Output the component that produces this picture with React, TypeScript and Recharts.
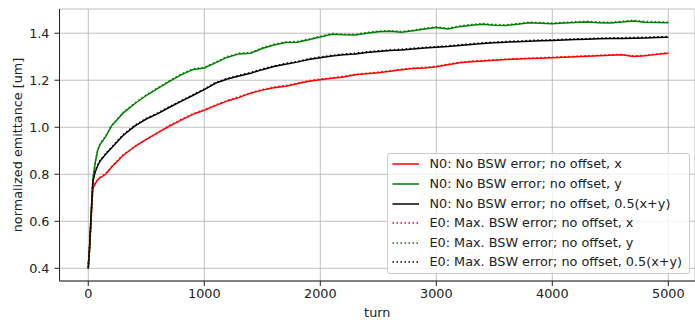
import React from "react";
import { LineChart, Line, XAxis, YAxis, CartesianGrid } from "recharts";

const turns = [0, 10, 20, 30, 40, 60, 80, 100, 150, 200, 300, 400, 500, 600, 700, 800, 900, 1000, 1100, 1200, 1300, 1400, 1500, 1600, 1700, 1800, 1900, 2000, 2100, 2200, 2300, 2400, 2500, 2600, 2700, 2800, 2900, 3000, 3100, 3200, 3300, 3400, 3500, 3600, 3700, 3800, 3900, 4000, 4100, 4200, 4300, 4400, 4500, 4600, 4700, 4800, 4900, 5000];

const n0x = [0.42, 0.47, 0.56, 0.66, 0.74, 0.76, 0.775, 0.785, 0.80, 0.83, 0.88, 0.918, 0.948, 0.977, 1.005, 1.030, 1.055, 1.072, 1.093, 1.112, 1.127, 1.145, 1.158, 1.168, 1.174, 1.185, 1.196, 1.202, 1.208, 1.214, 1.223, 1.228, 1.232, 1.238, 1.245, 1.250, 1.252, 1.257, 1.266, 1.274, 1.279, 1.282, 1.285, 1.288, 1.290, 1.292, 1.294, 1.296, 1.298, 1.300, 1.302, 1.304, 1.306, 1.308, 1.301, 1.304, 1.310, 1.315];
const n0y = [0.40, 0.48, 0.58, 0.68, 0.78, 0.85, 0.90, 0.925, 0.96, 1.005, 1.06, 1.10, 1.135, 1.165, 1.195, 1.223, 1.245, 1.252, 1.275, 1.298, 1.312, 1.315, 1.335, 1.350, 1.360, 1.362, 1.372, 1.384, 1.396, 1.393, 1.392, 1.400, 1.406, 1.408, 1.404, 1.410, 1.418, 1.424, 1.418, 1.428, 1.434, 1.438, 1.434, 1.433, 1.438, 1.444, 1.442, 1.440, 1.443, 1.446, 1.448, 1.445, 1.443, 1.448, 1.452, 1.447, 1.446, 1.444];
const n0xy = [0.40, 0.48, 0.58, 0.68, 0.77, 0.81, 0.835, 0.855, 0.885, 0.912, 0.965, 1.005, 1.035, 1.058, 1.085, 1.110, 1.135, 1.160, 1.188, 1.205, 1.218, 1.230, 1.245, 1.258, 1.268, 1.277, 1.288, 1.296, 1.303, 1.308, 1.312, 1.318, 1.322, 1.326, 1.329, 1.333, 1.337, 1.340, 1.343, 1.348, 1.352, 1.356, 1.359, 1.362, 1.364, 1.366, 1.368, 1.369, 1.371, 1.373, 1.374, 1.376, 1.377, 1.378, 1.379, 1.380, 1.382, 1.383];
const e0x = [0.42, 0.47, 0.56, 0.66, 0.74, 0.762, 0.777, 0.787, 0.803, 0.832, 0.883, 0.918, 0.948, 0.977, 1.008, 1.033, 1.057, 1.075, 1.095, 1.114, 1.130, 1.147, 1.160, 1.171, 1.177, 1.187, 1.198, 1.205, 1.210, 1.217, 1.225, 1.230, 1.235, 1.240, 1.247, 1.252, 1.255, 1.259, 1.268, 1.276, 1.281, 1.284, 1.287, 1.290, 1.292, 1.294, 1.296, 1.298, 1.300, 1.302, 1.304, 1.306, 1.308, 1.310, 1.303, 1.306, 1.312, 1.317];
const e0y = [0.40, 0.48, 0.58, 0.68, 0.78, 0.852, 0.902, 0.928, 0.963, 1.008, 1.063, 1.103, 1.138, 1.168, 1.198, 1.226, 1.248, 1.255, 1.278, 1.301, 1.315, 1.318, 1.338, 1.353, 1.363, 1.365, 1.375, 1.387, 1.399, 1.396, 1.395, 1.403, 1.409, 1.411, 1.407, 1.413, 1.421, 1.427, 1.421, 1.431, 1.437, 1.441, 1.437, 1.436, 1.441, 1.447, 1.445, 1.443, 1.446, 1.449, 1.451, 1.448, 1.446, 1.451, 1.455, 1.450, 1.449, 1.447];
const e0xy = [0.40, 0.48, 0.58, 0.68, 0.77, 0.812, 0.838, 0.858, 0.888, 0.915, 0.968, 1.008, 1.038, 1.061, 1.088, 1.113, 1.138, 1.163, 1.191, 1.208, 1.221, 1.233, 1.248, 1.261, 1.271, 1.280, 1.291, 1.299, 1.306, 1.311, 1.315, 1.321, 1.325, 1.329, 1.332, 1.336, 1.340, 1.343, 1.346, 1.351, 1.355, 1.359, 1.362, 1.365, 1.367, 1.369, 1.371, 1.372, 1.374, 1.376, 1.377, 1.379, 1.380, 1.381, 1.382, 1.383, 1.385, 1.386];

const xTicks = [0, 1000, 2000, 3000, 4000, 5000];
const yTicks = [0.4, 0.6, 0.8, 1.0, 1.2, 1.4];

const seriesNames = [
  "N0: No BSW error; no offset, x",
  "N0: No BSW error; no offset, y",
  "N0: No BSW error; no offset, 0.5(x+y)",
  "E0: Max. BSW error; no offset, x",
  "E0: Max. BSW error; no offset, y",
  "E0: Max. BSW error; no offset, 0.5(x+y)",
];
const seriesKeys = ["n0x", "n0y", "n0xy", "e0x", "e0y", "e0xy"];
const seriesColors = ["#ff0000", "#008000", "#000000", "#ff0000", "#008000", "#000000"];
const seriesDotted = [false, false, false, true, true, true];

const data = turns.map((t, i) => ({
  turn: t,
  n0x: n0x[i],
  n0y: n0y[i],
  n0xy: n0xy[i],
  e0x: e0x[i],
  e0y: e0y[i],
  e0xy: e0xy[i],
}));

const FONT = "'DejaVu Sans', sans-serif";
const TXT = "#222";
const FS = 12.8;

function LegendBox() {
  return (
    <div
      style={{
        position: "absolute",
        left: 387,
        top: 153,
        width: 303,
        height: 121,
        background: "rgba(255,255,255,0.8)",
        border: "1px solid #cccccc",
        borderRadius: 3,
        boxSizing: "border-box",
        fontFamily: FONT,
        fontSize: FS,
        color: TXT,
      }}
    >
      {seriesNames.map((name, i) => (
        <div
          key={name}
          style={{
            position: "absolute",
            left: 0,
            top: 10.3 + i * 19.6 - 8,
            height: 16,
            display: "flex",
            alignItems: "center",
            whiteSpace: "nowrap",
          }}
        >
          <svg width={40} height={16} style={{ display: "block" }}>
            <line
              x1={4.5}
              x2={31}
              y1={8}
              y2={8}
              stroke={seriesColors[i]}
              strokeWidth={1.5}
              strokeDasharray={seriesDotted[i] ? "1.5 2.5" : undefined}
            />
          </svg>
          <span style={{ marginLeft: 1.5, lineHeight: "16px" }}>{name}</span>
        </div>
      ))}
    </div>
  );
}

export default function App() {
  return (
    <div style={{ position: "absolute", left: 0, top: 0, width: 695, height: 320, background: "#fff" }}>
      <LineChart
        width={695}
        height={320}
        data={data}
        margin={{ top: 9, right: 0, bottom: 0, left: 0 }}
      >
        <CartesianGrid stroke="#b0b0b0" strokeWidth={0.8} />
        <XAxis
          dataKey="turn"
          type="number"
          domain={[-248, 5230]}
          ticks={xTicks}
          allowDataOverflow
          height={39}
          tickSize={5}
          tickMargin={3}
          stroke="#222"
          tick={{ fill: TXT, fontSize: FS, fontFamily: FONT }}
          label={{ value: "turn", position: "insideBottom", offset: 3, fill: TXT, fontSize: FS, fontFamily: FONT }}
        />
        <XAxis
          xAxisId="top"
          orientation="top"
          dataKey="turn"
          type="number"
          domain={[-248, 5230]}
          height={0}
          tick={false}
          tickLine={false}
          stroke="#222"
        />
        <YAxis
          type="number"
          domain={[0.346, 1.503]}
          ticks={yTicks}
          allowDataOverflow
          width={59.5}
          tickSize={5}
          tickMargin={5}
          stroke="#222"
          tickFormatter={(v: number) => v.toFixed(1)}
          tick={{ fill: TXT, fontSize: FS, fontFamily: FONT }}
          label={{
            value: "normalized emittance [um]",
            angle: -90,
            position: "insideLeft",
            offset: 17,
            fill: TXT,
            fontSize: FS,
            fontFamily: FONT,
            style: { textAnchor: "middle" },
          }}
        />
        {seriesKeys.map((k, i) => (
          <Line
            key={k}
            dataKey={k}
            type="linear"
            stroke={seriesColors[i]}
            strokeWidth={1.5}
            strokeDasharray={seriesDotted[i] ? "1.5 2.5" : undefined}
            dot={false}
            activeDot={false}
            isAnimationActive={false}
          />
        ))}
      </LineChart>
      <LegendBox />
    </div>
  );
}
